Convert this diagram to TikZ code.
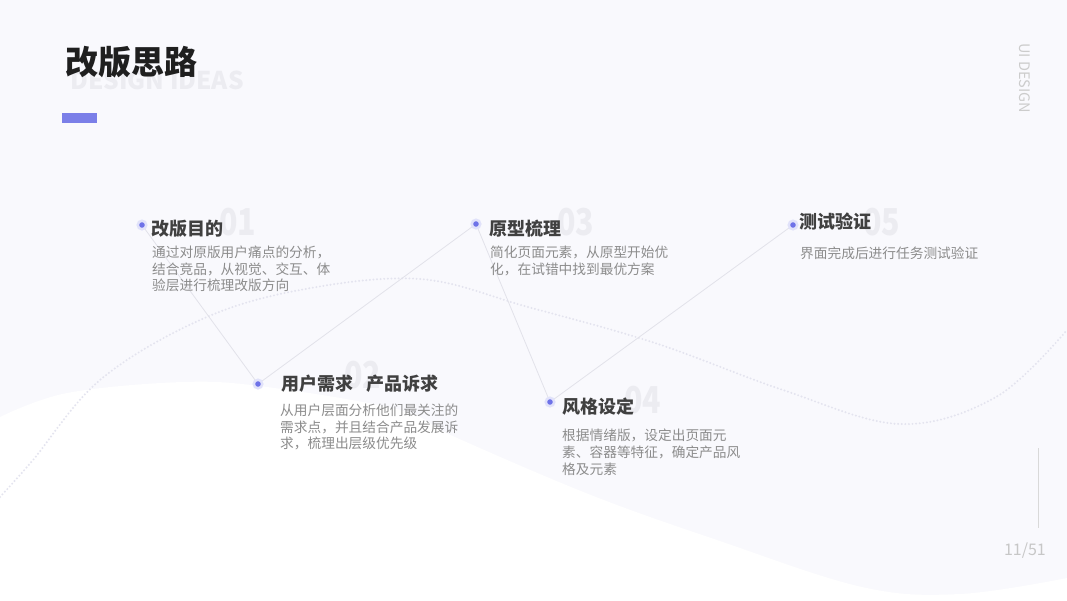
\documentclass[tikz,border=0pt]{standalone}
\usepackage{fontspec}
\setmainfont{Noto Sans CJK SC}
\newfontfamily\numfont[FakeStretch=0.82]{Noto Sans CJK SC}
\definecolor{bgc}{HTML}{F9F9FD}
\definecolor{dotc}{HTML}{6E72E8}
\definecolor{haloc}{HTML}{E1E2FA}
\definecolor{connc}{HTML}{E2E2EA}
\definecolor{wavec}{HTML}{E4E4EF}
\definecolor{titlec}{HTML}{404040}
\definecolor{descc}{HTML}{8C8C8C}
\definecolor{numc}{HTML}{ECECF1}
\definecolor{barc}{HTML}{7B7FE8}
\tikzset{
  dotnode/.style={circle, fill=dotc, draw=haloc, line width=2.5pt, minimum size=8.5pt, inner sep=0pt},
  conn/.style={draw=connc, line width=0.8pt},
  stitle/.style={anchor=west, inner sep=0pt, text=titlec, font=\fontsize{18}{20}\selectfont\bfseries},
  sdesc/.style={anchor=north west, inner sep=0pt, align=left, text=descc, font=\fontsize{13.7}{16.6}\selectfont},
  bignum/.style={anchor=west, inner sep=0pt, text=numc, font=\numfont\fontsize{37}{37}\selectfont\bfseries},
}
\begin{document}
\begin{tikzpicture}[x=1pt,y=-1pt]
\useasboundingbox (0,0) rectangle (1067,600);
\fill[bgc] (0,0) rectangle (1067,600);
% white wave
\fill[white] plot[smooth, tension=0.6] coordinates {(0,417) (67,393) (183,382) (267,387) (400,410) (455,437) (591,495) (717,540) (862,587) (960,594) (1067,578)} -- (1067,600) -- (0,600) -- cycle;
% dotted wave
\draw[wavec, line width=2.2pt, line cap=round, dash pattern=on 0pt off 3.6pt] plot[smooth, tension=0.6] coordinates {(0,497) (33,460) (100,380) (200,320) (300,290) (420,279) (528,307) (655,343) (783,390) (900,424) (996,397) (1067,330)};
% header
\node[anchor=west, inner sep=0pt, text=numc, font=\fontsize{24.5}{24.5}\selectfont\bfseries] (sub) at (70,80) {DESIGN IDEAS};
\node[anchor=west, inner sep=0pt, text=black!88, font=\fontsize{33}{33}\selectfont\bfseries] (head) at (65,62) {改版思路};
\node[fill=barc, minimum width=35pt, minimum height=10pt, inner sep=0pt, anchor=north west] (bar) at (62,113) {};
\node[rotate=-90, inner sep=0pt, text=black!20, font=\fontsize{14.5}{14.5}\selectfont] (uid) at (1025,78) {UI DESIGN};
\draw[black!15, line width=1pt] (1038,448) coordinate (vl1) -- (1038,528) coordinate (vl2);
\node[anchor=east, inner sep=0pt, text=black!22, font=\fontsize{16}{16}\selectfont] (pg) at (1046,551) {11/51};
% dot positions
\coordinate (d1) at (142,225);
\coordinate (d2) at (258,384);
\coordinate (d3) at (476,224);
\coordinate (d4) at (550,402);
\coordinate (d5) at (793,225);
% connectors
\draw[conn] (d1) -- (d2);
\draw[conn] (d2) -- (d3);
\draw[conn] (d3) -- (d4);
\draw[conn] (d4) -- (d5);
% dots
\node[dotnode] (k1) at (d1) {};
\node[dotnode] (k2) at (d2) {};
\node[dotnode] (k3) at (d3) {};
\node[dotnode] (k4) at (d4) {};
\node[dotnode] (k5) at (d5) {};
% big numbers
\node[bignum] (n1) at (219,222) {01};
\node[bignum] (n2) at (344,375) {02};
\node[bignum] (n3) at (557,222) {03};
\node[bignum] (n4) at (624,400) {04};
\node[bignum] (n5) at (863,222) {05};
% titles
\node[stitle] (t1) at (151,229) {改版目的};
\node[stitle] (t2) at (281,384) {用户需求\hspace{0.75em}产品诉求};
\node[stitle] (t3) at (489,229) {原型梳理};
\node[stitle] (t4) at (562,407) {风格设定};
\node[stitle] (t5) at (799,222) {测试验证};
% descriptions
\node[sdesc] (p1) at (152,246) {通过对原版用户痛点的分析，\\结合竞品，从视觉、交互、体\\验层进行梳理改版方向};
\node[sdesc] (p2) at (280,404) {从用户层面分析他们最关注的\\需求点，并且结合产品发展诉\\求，梳理出层级优先级};
\node[sdesc] (p3) at (490,246) {简化页面元素，从原型开始优\\化，在试错中找到最优方案};
\node[sdesc] (p4) at (562,429) {根据情绪版，设定出页面元\\素、容器等特征，确定产品风\\格及元素};
\node[sdesc] (p5) at (800,247) {界面完成后进行任务测试验证};
\end{tikzpicture}
\end{document}
